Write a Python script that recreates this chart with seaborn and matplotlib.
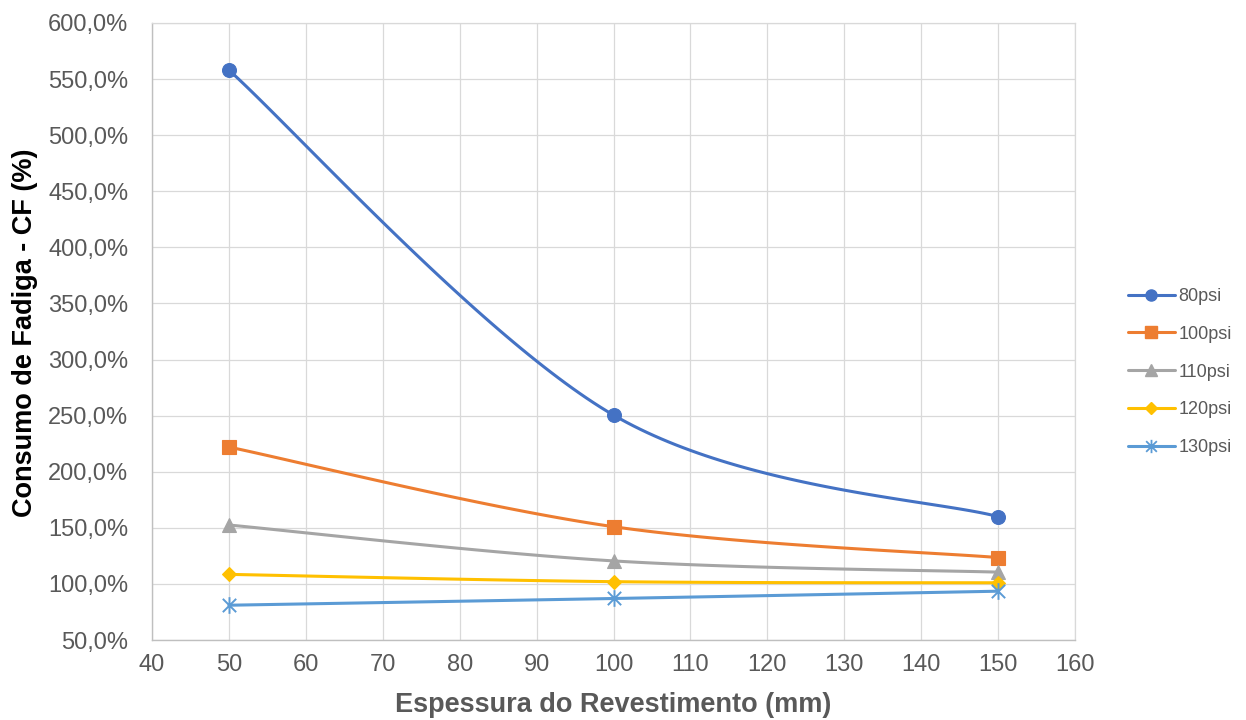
import numpy as np
import pandas as pd
import matplotlib
matplotlib.use("Agg")
import matplotlib.pyplot as plt
from matplotlib.path import Path
from matplotlib.lines import Line2D
import seaborn as sns

# --- data -------------------------------------------------------------
espessura = [50, 100, 150]                      # mm
series_names = ["80psi", "100psi", "110psi", "120psi", "130psi"]
cf_80psi = [558.0, 250.5, 160.0]
cf_100psi = [222.0, 151.0, 123.5]
cf_110psi = [152.5, 120.5, 110.5]
cf_120psi = [108.5, 102.0, 101.0]
cf_130psi = [81.0, 87.0, 93.5]

x_ticks = list(range(40, 161, 10))
y_ticks = list(range(50, 601, 50))

colors = ["#4472C4", "#ED7D31", "#A5A5A5", "#FFC000", "#5B9BD5"]

# Excel-style "star" marker: an x with a vertical bar
star = Path([(0, -1), (0, 1), (-0.8, -0.8), (0.8, 0.8), (-0.8, 0.8), (0.8, -0.8)],
            [Path.MOVETO, Path.LINETO, Path.MOVETO, Path.LINETO, Path.MOVETO, Path.LINETO])
markers = ["o", "s", "^", "D", star]
marker_sizes = [10, 10, 10, 7.5, 12]


def smooth(xs, ys, n=60):
    """Piecewise cubic Bezier through the points (spreadsheet-style smoothing)."""
    p = np.column_stack([xs, ys]).astype(float)
    out = []
    for i in range(len(p) - 1):
        p0 = p[i - 1] if i > 0 else p[i]
        p1, p2 = p[i], p[i + 1]
        p3 = p[i + 2] if i + 2 < len(p) else p[i + 1]
        c1 = p1 + (p2 - p0) / 6.0
        c2 = p2 - (p3 - p1) / 6.0
        t = np.linspace(0, 1, n)[:, None]
        seg = ((1 - t) ** 3) * p1 + 3 * ((1 - t) ** 2) * t * c1 + 3 * (1 - t) * t ** 2 * c2 + t ** 3 * p2
        out.append(seg if i == 0 else seg[1:])
    out = np.vstack(out)
    return out[:, 0], out[:, 1]


# --- figure -------------------------------------------------------------
sns.set_theme(style="white")
plt.rcParams["font.family"] = ["Liberation Sans", "DejaVu Sans"]

fig = plt.figure(figsize=(12.46, 7.2), dpi=100)
ax = fig.add_axes([152 / 1246, 1 - 640 / 720, (1075 - 152) / 1246, (640 - 23) / 720])

all_values = [cf_80psi, cf_100psi, cf_110psi, cf_120psi, cf_130psi]
handles = []
for k, (name, vals) in enumerate(zip(series_names, all_values)):
    sx, sy = smooth(espessura, vals)
    curve = pd.DataFrame({"x": sx, "y": sy})
    sns.lineplot(data=curve, x="x", y="y", ax=ax, color=colors[k], lw=2.2,
                 sort=False, estimator=None, zorder=3 + k)
    mk = markers[k]
    if k == 4:
        ax.plot(espessura, vals, ls="none", marker=mk, ms=marker_sizes[k],
                mfc="none", mec=colors[k], mew=1.4, zorder=3 + k)
        h = Line2D([], [], color=colors[k], lw=2.2, marker=mk, ms=marker_sizes[k] * 0.8,
                   mfc="none", mec=colors[k], mew=1.3)
    else:
        ax.plot(espessura, vals, ls="none", marker=mk, ms=marker_sizes[k],
                mfc=colors[k], mec=colors[k], mew=0.8, zorder=3 + k)
        h = Line2D([], [], color=colors[k], lw=2.2, marker=mk, ms=marker_sizes[k] * 0.8,
                   mfc=colors[k], mec=colors[k])
    handles.append(h)

ax.set_xlim(40, 160)
ax.set_ylim(50, 600)
ax.set_xticks(x_ticks)
ax.set_yticks(y_ticks)
ax.set_xticklabels([str(v) for v in x_ticks])
ax.set_yticklabels([f"{v:.1f}".replace(".", ",") + "%" for v in y_ticks])
ax.tick_params(axis="both", length=0, labelsize=17, colors="#595959")
ax.tick_params(axis="y", pad=17)
ax.tick_params(axis="x", pad=10)

ax.grid(True, color="#d9d9d9", lw=0.9, zorder=0)
ax.set_axisbelow(True)
for side in ["top", "right"]:
    ax.spines[side].set_color("#d9d9d9")
    ax.spines[side].set_linewidth(0.9)
for side in ["left", "bottom"]:
    ax.spines[side].set_color("#bfbfbf")
    ax.spines[side].set_linewidth(1.0)

ax.set_xlabel("")
ax.set_ylabel("")
fig.text(613.5 / 1246, 1 - 705 / 720, "Espessura do Revestimento (mm)",
         ha="center", va="center", fontsize=19.5, fontweight="bold", color="#595959")
fig.text(25 / 1246, 1 - 333 / 720, "Consumo de Fadiga - CF (%)", rotation=90,
         ha="center", va="center", fontsize=19.5, fontweight="bold", color="black")

fig.legend(handles, series_names, loc="center left",
           bbox_to_anchor=(1128 / 1246, 1 - 372 / 720), frameon=False,
           fontsize=13, handlelength=2.6, handletextpad=0.2, labelspacing=1.15,
           borderpad=0, borderaxespad=0, labelcolor="#595959")

fig.savefig("out.png", dpi=100)
